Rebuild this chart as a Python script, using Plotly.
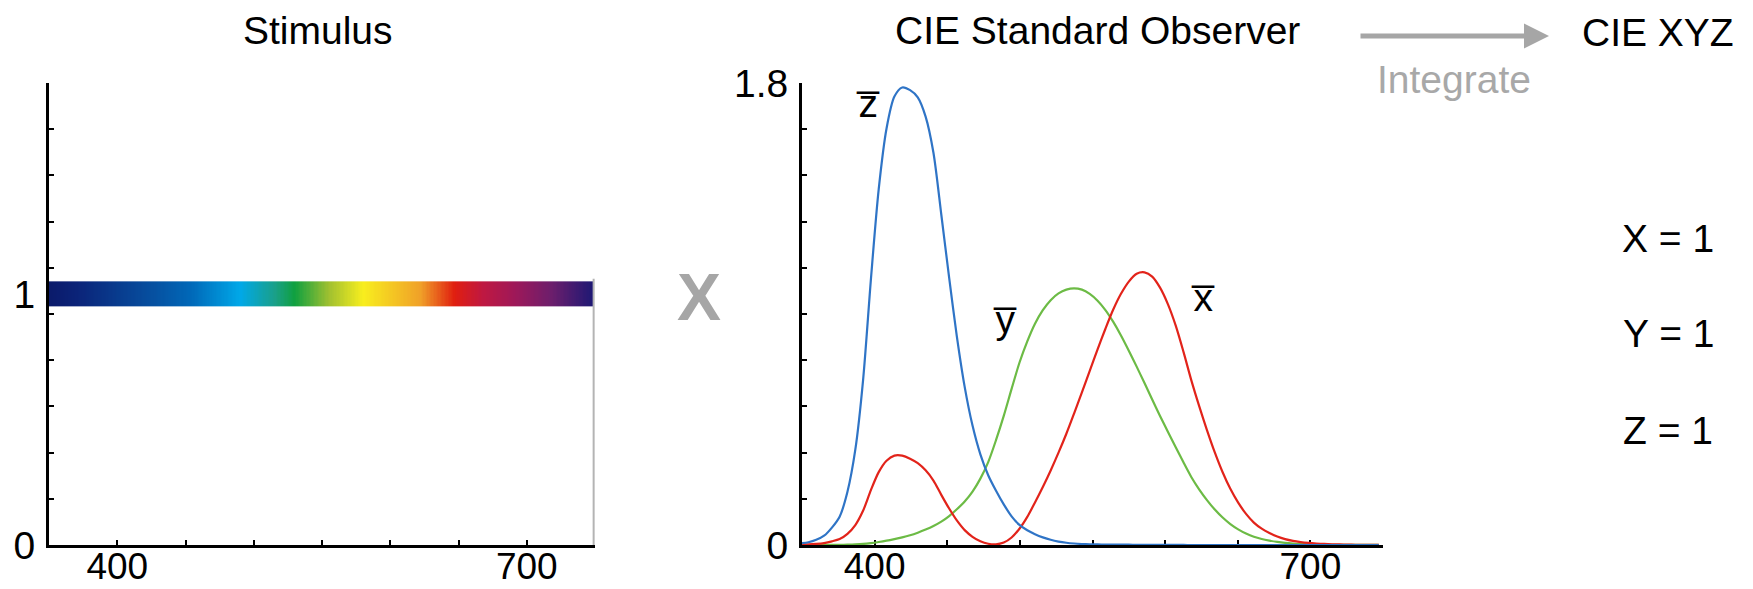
import numpy as np
import plotly.graph_objects as go

# ---------------- data ----------------
# Stimulus: equal-energy (level 1) across the spectrum, drawn as a spectral colour bar
stim_start_nm = 350
stim_end_nm = 749
stim_level = 1.0
stim_half_height = 0.05
# spectral colour stops (wavelength, colour)
spec_nm = [350, 370, 426, 454, 490, 515, 530, 555, 580, 622, 647, 667, 690, 718, 749]
spec_col = ["#0b1a6a", "#0b2378", "#0650a0", "#0068b8", "#00a8e8", "#1aa08a", "#10a040",
            "#a0c030", "#f8ee1e", "#f0a028", "#e01e10", "#c01840", "#a01858", "#6c1e6c", "#1c1874"]

# CIE standard observer curves (positions as read along the reference x axis)
observer_nm = [349.0, 354.4, 359.8, 365.2, 370.6, 375.9, 381.3, 386.7, 392.1, 397.5,
               402.8, 408.2, 413.6, 419.0, 424.4, 429.7, 435.1, 440.5, 445.9, 451.3,
               456.6, 462.0, 467.4, 472.8, 478.2, 483.5, 488.9, 494.3, 499.7, 505.1,
               510.4, 515.8, 521.2, 526.6, 532.0, 537.3, 542.7, 548.1, 553.5, 558.9,
               564.2, 569.6, 575.0, 580.4, 585.8, 591.1, 596.5, 601.9, 607.3, 612.7,
               618.0, 623.4, 628.8, 634.2, 639.6, 644.9, 650.3, 655.7, 661.1, 666.5,
               671.8, 677.2, 682.6, 688.0, 693.3, 698.7, 704.1, 709.5, 714.9, 720.2,
               725.6, 731.0, 736.4, 741.8, 747.1]
xbar = [0.001368, 0.002236, 0.004243, 0.007650, 0.014310, 0.023190, 0.043510, 0.077630,
        0.134380, 0.214770, 0.283900, 0.328500, 0.348280, 0.348060, 0.336200, 0.318700,
        0.290800, 0.251100, 0.195360, 0.142100, 0.095640, 0.057950, 0.032010, 0.014700,
        0.004900, 0.002400, 0.009300, 0.029100, 0.063270, 0.109600, 0.165500, 0.225750,
        0.290400, 0.359700, 0.433450, 0.512050, 0.594500, 0.678400, 0.762100, 0.842500,
        0.916300, 0.978600, 1.026300, 1.056700, 1.062200, 1.045600, 1.002600, 0.938400,
        0.854450, 0.751400, 0.642400, 0.541900, 0.447900, 0.360800, 0.283500, 0.218700,
        0.164900, 0.121200, 0.087400, 0.063600, 0.046770, 0.032900, 0.022700, 0.015840,
        0.011359, 0.008111, 0.005790, 0.004109, 0.002899, 0.002049, 0.001440, 0.001000,
        0.000690, 0.000476, 0.000332]
ybar = [0.000039, 0.000064, 0.000120, 0.000217, 0.000396, 0.000640, 0.001210, 0.002180,
        0.004000, 0.007300, 0.011600, 0.016840, 0.023000, 0.029800, 0.038000, 0.048000,
        0.060000, 0.073900, 0.090980, 0.112600, 0.139020, 0.169300, 0.208020, 0.258600,
        0.323000, 0.407300, 0.503000, 0.608200, 0.710000, 0.793200, 0.862000, 0.914850,
        0.954000, 0.980300, 0.994950, 1.000000, 0.995000, 0.978600, 0.952000, 0.915400,
        0.870000, 0.816300, 0.757000, 0.694900, 0.631000, 0.566800, 0.503000, 0.441200,
        0.381000, 0.321000, 0.265000, 0.217000, 0.175000, 0.138200, 0.107000, 0.081600,
        0.061000, 0.044580, 0.032000, 0.023200, 0.017000, 0.011920, 0.008210, 0.005723,
        0.004102, 0.002929, 0.002091, 0.001484, 0.001047, 0.000740, 0.000520, 0.000361,
        0.000249, 0.000172, 0.000120]
zbar = [0.006450, 0.010550, 0.020050, 0.036210, 0.067850, 0.110200, 0.207400, 0.371300,
        0.645600, 1.039050, 1.385600, 1.622960, 1.747060, 1.782600, 1.772110, 1.744100,
        1.669200, 1.528100, 1.287640, 1.041900, 0.812950, 0.616200, 0.465180, 0.353300,
        0.272000, 0.212300, 0.158200, 0.111700, 0.078250, 0.057250, 0.042160, 0.029840,
        0.020300, 0.013400, 0.008750, 0.005750, 0.003900, 0.002750, 0.002100, 0.001800,
        0.001650, 0.001400, 0.001100, 0.001000, 0.000800, 0.000600, 0.000340, 0.000240,
        0.000190, 0.000100, 0.000050, 0.000030, 0.000020, 0.000010, 0.0, 0.0,
        0.0, 0.0, 0.0, 0.0, 0.0, 0.0, 0.0, 0.0,
        0.0, 0.0, 0.0, 0.0, 0.0, 0.0, 0.0, 0.0,
        0.0, 0.0, 0.0]

x_tick_vals = [400, 450, 500, 550, 600, 650, 700]
x_tick_text = ["400", "", "", "", "", "", "700"]
results = ["X = 1", "Y = 1", "Z = 1"]

FONT = "Liberation Sans, Arial, Helvetica, sans-serif"
FS = 39
W, H = 1753, 589

fig = go.Figure()

# stimulus colour bar
edges = np.arange(stim_start_nm, stim_end_nm + 1)
centers = (edges[:-1] + edges[1:]) / 2.0
span = stim_end_nm - stim_start_nm
cscale = [[(w - stim_start_nm) / span, c] for w, c in zip(spec_nm, spec_col)]
fig.add_trace(go.Heatmap(
    x=edges, y=[stim_level - stim_half_height, stim_level + stim_half_height],
    z=[list(centers)], colorscale=cscale, zmin=stim_start_nm, zmax=stim_end_nm,
    showscale=False, hoverinfo="skip", xaxis="x", yaxis="y"))
# thin grey edge line of the stimulus
fig.add_trace(go.Scatter(x=[stim_end_nm, stim_end_nm], y=[0, stim_level + stim_half_height + 0.01],
                         mode="lines", line=dict(color="#b4b4b4", width=2),
                         hoverinfo="skip", showlegend=False, xaxis="x", yaxis="y"))

# observer curves
for vals, col in [(ybar, "#6cbb45"), (xbar, "#e2231a"), (zbar, "#2f74c6")]:
    fig.add_trace(go.Scatter(x=observer_nm, y=vals, mode="lines",
                             line=dict(color=col, width=2.2, shape="spline", smoothing=0.8),
                             hoverinfo="skip", showlegend=False, xaxis="x2", yaxis="y2"))

ydom = [1 - 545 / H, 1 - 83 / H]
axis_common = dict(showgrid=False, zeroline=False, showline=True, linecolor="black",
                   linewidth=3, layer="below traces", fixedrange=True, automargin=False,
                   tickfont=dict(family=FONT, size=FS, color="black"))

xa = dict(axis_common, range=[350, 750], tickmode="array", tickvals=x_tick_vals,
          ticktext=x_tick_text, ticks="inside", ticklen=5, tickwidth=2, tickcolor="black",
          ticklabelstandoff=-13, tickfont=dict(family=FONT, size=37, color="black"))

fig.update_layout(
    width=W, height=H, margin=dict(l=0, r=0, t=0, b=0, autoexpand=False),
    paper_bgcolor="white", plot_bgcolor="white", showlegend=False,
    xaxis=dict(xa, domain=[49 / W, 595 / W], anchor="y"),
    xaxis2=dict(xa, domain=[802 / W, 1383 / W], anchor="y2"),
    yaxis=dict(axis_common, domain=ydom, range=[0, 1.84], anchor="x",
               tickmode="array", tickvals=[0, 1], ticktext=["0", "1"], ticks="",
               ticklabelstandoff=3,
               minor=dict(tickmode="array", tickvals=[i * 0.184 for i in range(1, 10)],
                          ticks="inside", ticklen=5, tickwidth=2, tickcolor="black")),
    yaxis2=dict(axis_common, domain=ydom, range=[0, 1.8], anchor="x2",
                tickmode="array", tickvals=[0, 1.8], ticktext=["0", "1.8"], ticks="",
                ticklabelstandoff=3,
                minor=dict(tickmode="array", tickvals=[i * 0.18 for i in range(1, 10)],
                           ticks="inside", ticklen=5, tickwidth=2, tickcolor="black")),
)

def txt(s, x, y, size=FS, color="black", bold=False):
    fig.add_annotation(text=("<b>%s</b>" % s) if bold else s, x=x / W, y=1 - y / H,
                       xref="paper", yref="paper", showarrow=False,
                       xanchor="center", yanchor="middle",
                       font=dict(family=FONT, size=size, color=color))

txt("Stimulus", 318, 31)
txt("CIE Standard Observer", 1097, 31)
txt("CIE XYZ", 1658, 33)
txt("Integrate", 1454, 80, color="#a8a8a8")
txt("X", 699, 297, size=66, color="#a6a6a6", bold=True)
for s, yy in zip(results, [238, 333, 430]):
    txt(s, 1668, yy)

# arrow
fig.add_annotation(x=1549 / W, y=1 - 36 / H, xref="paper", yref="paper",
                   ax=-190, ay=0, text="", showarrow=True, arrowhead=2,
                   arrowsize=1, arrowwidth=5, arrowcolor="#a6a6a6")

# curve labels
for s, lx, ly in [("z\u0305", 395.4, 1.72), ("y\u0305", 489.8, 0.88), ("x\u0305", 626, 0.965)]:
    fig.add_annotation(text=s, x=lx, y=ly, xref="x2", yref="y2", showarrow=False,
                       xanchor="center", yanchor="middle",
                       font=dict(family=FONT, size=FS, color="black"))

fig.write_html("out.html", config={"displayModeBar": False})
